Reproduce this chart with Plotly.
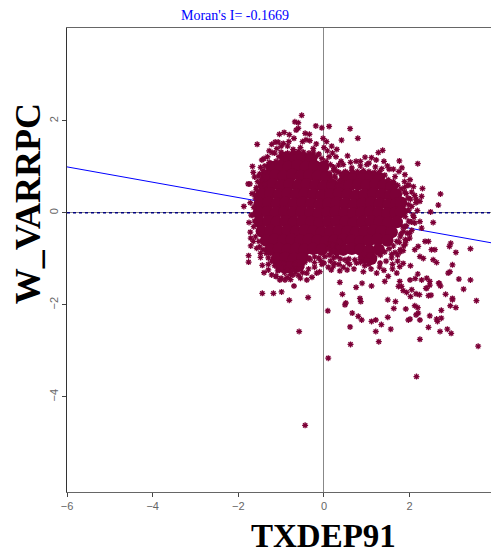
import plotly.graph_objects as go

MORAN_TITLE = "Moran's I= -0.1669"
X_LABEL = "TXDEP91"
Y_LABEL = "W_VARRPC"
X_TICKS = [-6, -4, -2, 0, 2]
Y_TICKS = [-4, -2, 0, 2]
FIT_X = [-6, 3.9]
FIT_Y = [1.0, -0.65]
ZERO_X = [-6, 3.9]
ZERO_Y = [0, 0]

# Individually legible points
point_x = [-0.52,-0.68,-0.60,-0.19,-0.05,0.12,0.61,0.79,0.41,-0.02,0.06,-1.56,-1.04,-0.93,-0.81,-0.65,-0.60,-0.44,-0.34,-0.33,-0.42,-1.22,-1.14,-1.07,-0.95,-1.21,-1.67,-1.65,-1.48,-1.77,-1.73,-1.87,-1.75,-1.71,-1.71,-1.57,-1.48,-1.76,-1.76,-1.44,-1.40,
 2.72,2.67,2.49,2.30,2.19,1.76,1.37,1.27,0.55,0.75,0.96,1.11,1.40,2.55,3.42,3.08,2.96,2.93,3.00,2.90,2.94,3.15,3.42,3.26,2.69,2.72,2.40,2.47,2.40,2.01,2.13,2.28,2.19,2.59,2.51,2.63,2.55,2.32,2.24,2.36,2.44,2.20,2.12,2.28,2.24,2.05,2.28,2.24,2.09,2.01,1.89,1.66,
 0.17,0.37,0.54,0.37,0.89,0.75,1.11,0.92,1.23,1.42,1.77,1.81,1.50,1.70,1.77,1.31,-1.03,-0.91,-0.70,-0.40,-0.17,-1.22,-0.40,0.00,-0.33,0.30,0.49,0.76,
 -1.44,-1.18,-0.99,-0.81,-0.37,0.09,-0.58,-0.44,0.10,0.43,0.51,0.49,0.84,0.86,0.66,0.80,0.88,0.61,0.62,1.11,1.21,1.34,1.49,1.21,1.56,1.28,1.49,1.67,1.63,1.91,1.74,1.85,1.93,2.05,2.02,2.15,2.23,2.12,2.19,2.15,2.20,2.24,2.01,1.97,2.44,2.24,2.16,2.71,2.88,2.97,2.47,2.63,2.65,2.74,2.74,2.95,3.08,3.00,3.00,2.84,2.44,2.50,2.38,2.47,2.68,3.56,3.60]
point_y = [2.12,1.98,1.96,1.89,1.85,1.88,1.83,1.62,1.58,1.62,1.55,1.49,1.71,1.75,1.70,1.80,1.84,1.73,1.71,1.57,1.59,1.49,1.54,1.54,1.51,1.31,1.01,0.88,0.99,0.63,0.63,0.14,-0.21,-0.55,-0.72,-0.77,-0.97,-0.93,-1.07,-1.14,-1.30,
 0.41,0.17,0.02,0.53,1.07,1.13,1.36,1.31,1.24,1.12,1.21,1.20,1.12,-0.21,-0.78,-0.86,-0.66,-0.73,-1.13,-1.31,-1.28,-1.44,-1.46,-1.66,-1.53,-1.59,-1.42,-1.49,-1.64,-1.46,-1.43,-1.46,-1.33,-0.80,-0.80,-1.08,-1.02,-0.99,-0.95,-0.62,-0.62,-0.73,-0.80,0.36,0.25,0.14,-0.33,-0.19,0.57,0.72,0.83,0.79,
 -1.24,-1.26,-1.24,-1.51,-1.53,-1.62,-1.59,-1.28,-1.31,-1.49,-1.49,-1.60,-1.38,-1.31,-1.17,-1.09,-1.46,-1.46,-1.59,-1.46,-1.31,-1.35,-1.31,-1.09,-1.02,-0.95,-1.02,-1.09,
 -1.75,-1.75,-1.72,-1.90,-1.84,-2.13,-2.58,-4.62,-3.16,-1.77,-1.96,-2.00,-1.86,-1.93,-2.18,-2.25,-2.33,-2.48,-2.86,-2.36,-2.33,-2.43,-2.27,-2.58,-2.53,-2.80,-1.89,-1.93,-2.08,-2.09,-1.60,-1.69,-1.73,-1.67,-1.82,-1.76,-1.78,-2.02,-2.06,-2.22,-2.18,-2.33,-2.31,-2.33,-2.49,-2.75,-3.56,-2.58,-2.53,-2.62,-2.24,-2.31,-2.36,-2.29,-2.12,-2.02,-2.06,-1.86,-1.89,-1.77,-1.80,-1.79,-1.64,-1.57,-1.53,-1.91,-2.90]

# Ragged rim of the cloud, estimated
fringe_x = [-1.15,-1.05,-1.12,-1.28,-1.38,-1.42,-1.50,-1.46,-1.55,-1.58,-1.60,-1.64,-1.66,-1.62,-1.64,-1.60,-1.52,-1.50,-1.42,-1.35,-1.30,-1.22,-1.15,-1.08,-0.92,-0.78,-0.66,-0.52,-0.45,-0.35,-0.22,-0.12,0.02,0.12,0.22,0.38,0.58,0.72,0.85,1.00,1.18,1.32,1.42,1.52,1.62,1.70,1.78,1.85,1.92,1.98,1.95,1.98,1.96,1.88,1.80,1.72,1.62,1.50,1.42,1.30,1.18,1.05,0.92,0.78,0.65,0.50,0.35,0.25,0.22,0.15,0.05,-0.05,-0.15,-0.25,-0.35,-0.48,-0.60,-0.72,-0.85,-0.98,
 -1.32,-1.28,-1.00,-0.82,-0.70,-0.50,-0.18,0.00,0.08,0.18,0.30,0.12,0.40,0.62,0.85,1.05,1.22,1.48,1.62,1.75,1.88,1.98,2.12,2.15,2.18,2.08,2.12,2.05,2.00,1.90,1.85,1.72,1.58,1.45,1.60,1.40,1.10,0.95,0.70,0.55,0.35,0.15,-0.05,-0.22,-0.55,-0.28,-0.78,-1.12,-1.30,-1.48,-1.65,-1.72,-1.70,-1.72,-1.68,-1.62,-1.45,-1.38,
 -1.40,-1.10,-1.00,-0.85,-0.72,-0.55,-0.25,-0.12,0.20,0.28,-1.38,-1.52,-1.58,-1.62,-1.30,-1.12,-0.85,-0.72,-0.58,-0.10,0.10,0.24,0.25,0.45,0.65,0.85,1.00,1.20,1.35,1.52,1.82,1.95,2.05,2.15,1.92,1.78,2.02,1.85,1.72,1.60,1.30,1.05,0.85,0.60,0.45,0.22,1.90,2.00,1.88,2.10,
 0.16,0.26,0.36,0.12,0.30,0.42,0.22,0.34,0.14,0.28,0.40,0.10,0.22,0.34,0.16,0.30,0.44,0.20,0.36,
 1.92,2.02,1.86,1.98,1.90,2.04,1.84,1.94,1.80,1.90,1.76,1.86,1.66,1.78,1.58,
 -1.00,-0.86,-0.74,-0.60,-0.94,-0.68,-0.50,-0.36,-0.22,-0.08]
fringe_y = [1.30,1.22,1.12,1.10,1.02,0.92,0.85,0.72,0.68,0.50,0.32,0.12,-0.05,-0.18,-0.30,-0.52,-0.62,-0.74,-0.80,-0.88,-0.98,-1.05,-1.15,-1.26,-1.30,-1.34,-1.28,-1.18,-1.08,-0.98,-0.96,-0.98,-0.95,-0.92,-0.98,-1.00,-1.00,-1.02,-0.98,-1.02,-0.95,-0.92,-0.85,-0.78,-0.72,-0.62,-0.52,-0.40,-0.28,-0.18,0.05,0.18,0.32,0.45,0.52,0.60,0.68,0.72,0.82,0.90,0.88,0.90,0.92,0.90,0.92,0.90,0.88,0.80,0.92,1.05,1.12,1.18,1.25,1.32,1.30,1.32,1.34,1.32,1.30,1.28,
 1.22,1.35,1.45,1.55,1.62,1.55,1.50,1.42,1.35,1.45,1.38,1.22,1.12,1.10,1.12,1.08,1.15,1.02,0.95,0.90,0.68,0.60,0.38,0.22,0.05,-0.05,-0.22,-0.38,-0.55,-0.68,-0.82,-0.92,-0.98,-1.05,-1.22,-1.25,-1.22,-1.15,-1.22,-1.08,-1.12,-1.05,-1.12,-1.08,-1.42,-1.40,-1.45,-1.38,-1.12,-0.88,-0.62,-0.42,-0.05,0.22,0.42,0.78,1.15,0.62,
 1.18,1.40,1.32,1.45,1.38,1.42,1.40,1.28,1.30,1.22,0.90,0.80,0.55,0.40,-1.24,-1.38,-1.25,-1.35,-1.22,-1.28,-1.18,-1.10,0.95,1.05,0.98,1.02,1.05,1.00,0.96,0.95,0.98,0.60,0.45,0.30,-0.60,-0.85,-1.15,-1.10,-1.05,-1.12,-1.18,-1.12,-1.08,-1.12,-1.18,-1.16,-0.30,-0.45,0.55,-0.10,
 0.72,0.76,0.70,0.86,0.90,0.82,1.00,1.04,-0.68,-0.72,-0.66,-0.78,-0.82,-0.76,-0.88,-0.90,-0.84,-0.70,-0.62,
 0.42,0.30,0.24,0.06,-0.08,-0.20,-0.30,-0.44,-0.46,-0.58,-0.64,-0.72,-0.86,-0.80,-0.90,
 -1.42,-1.40,-1.24,-1.36,-1.10,-1.12,-1.30,-1.22,-1.18,-1.04]

# Solid mass of the cloud, where single points can no longer be told apart
core_x = [-0.90,-0.70,-0.50,-0.30,
 -1.22,-1.02,-0.82,-0.62,-0.42,-0.22,-0.02,
 -1.34,-1.14,-0.94,-0.74,-0.54,-0.34,-0.14,0.06,0.50,0.70,0.90,1.10,1.28,
 -1.40,-1.20,-1.00,-0.80,-0.60,-0.40,-0.20,0.00,0.20,0.40,0.60,0.80,1.00,1.20,1.40,1.58,
 -1.45,-1.25,-1.05,-0.85,-0.65,-0.45,-0.25,-0.05,0.15,0.35,0.55,0.75,0.95,1.15,1.35,1.55,1.68,
 -1.50,-1.30,-1.10,-0.90,-0.70,-0.50,-0.30,-0.10,0.10,0.30,0.50,0.70,0.90,1.10,1.30,1.50,1.70,1.80,
 -1.52,-1.32,-1.12,-0.92,-0.72,-0.52,-0.32,-0.12,0.08,0.28,0.48,0.68,0.88,1.08,1.28,1.48,1.68,1.80,
 -1.50,-1.30,-1.10,-0.90,-0.70,-0.50,-0.30,-0.10,0.10,0.30,0.50,0.70,0.90,1.10,1.30,1.50,1.70,
 -1.45,-1.25,-1.05,-0.85,-0.65,-0.45,-0.25,-0.05,0.15,0.35,0.55,0.75,0.95,1.15,1.35,1.58,
 -1.35,-1.15,-0.95,-0.75,-0.55,-0.35,-0.15,0.05,0.25,0.45,0.65,0.85,1.05,1.25,1.48,
 -1.25,-1.05,-0.85,-0.65,-0.45,-0.25,-0.05,0.25,0.45,0.65,0.85,1.05,1.28,
 -1.10,-0.90,-0.70,-0.50,0.95,1.10,
 -1.00,-0.80,-0.60]
core_y = [1.20,1.22,1.20,1.18,
 1.00,1.02,1.00,1.03,1.00,1.02,1.00,
 0.80,0.82,0.80,0.83,0.80,0.82,0.80,0.78,0.80,0.78,0.80,0.78,0.76,
 0.60,0.62,0.60,0.62,0.60,0.62,0.60,0.58,0.60,0.58,0.60,0.62,0.60,0.62,0.60,0.58,
 0.40,0.42,0.40,0.42,0.40,0.42,0.40,0.38,0.40,0.42,0.40,0.38,0.40,0.42,0.40,0.38,0.40,
 0.20,0.22,0.20,0.22,0.20,0.22,0.20,0.18,0.20,0.22,0.20,0.18,0.20,0.22,0.20,0.18,0.20,0.22,
 0.00,0.02,0.00,0.02,0.00,0.02,0.00,-0.02,0.00,0.02,0.00,-0.02,0.00,0.02,0.00,-0.02,0.00,0.02,
 -0.20,-0.18,-0.20,-0.18,-0.20,-0.18,-0.20,-0.22,-0.20,-0.18,-0.20,-0.22,-0.20,-0.18,-0.20,-0.22,-0.20,
 -0.40,-0.38,-0.40,-0.38,-0.40,-0.38,-0.40,-0.42,-0.40,-0.38,-0.40,-0.42,-0.40,-0.38,-0.40,-0.42,
 -0.60,-0.58,-0.60,-0.58,-0.60,-0.58,-0.60,-0.62,-0.60,-0.58,-0.60,-0.62,-0.60,-0.58,-0.60,
 -0.80,-0.78,-0.80,-0.78,-0.80,-0.78,-0.80,-0.78,-0.80,-0.78,-0.80,-0.82,-0.80,
 -1.00,-0.98,-1.00,-0.98,-0.98,-1.00,
 -1.16,-1.18,-1.15]

PURPLE = "#7D0037"
GREY = "#666666"

fig = go.Figure()
fig.add_trace(go.Scatter(x=ZERO_X, y=ZERO_Y, mode="lines", line=dict(color="#000080", width=1.5, dash="dot"), hoverinfo="skip"))
fig.add_trace(go.Scatter(x=FIT_X, y=FIT_Y, mode="lines", line=dict(color="#0000FF", width=1), hoverinfo="skip"))
fig.add_trace(go.Scatter(x=core_x, y=core_y, mode="markers", marker=dict(symbol="circle", size=12.5, color=PURPLE, line=dict(width=0))))
asterisk = dict(symbol="asterisk-open", size=5, color=PURPLE, line=dict(color=PURPLE, width=1.3))
fig.add_trace(go.Scatter(x=fringe_x, y=fringe_y, mode="markers", marker=asterisk))
fig.add_trace(go.Scatter(x=point_x, y=point_y, mode="markers", marker=asterisk))

fig.update_layout(
    width=491, height=552, showlegend=False,
    paper_bgcolor="white", plot_bgcolor="white",
    margin=dict(l=67, r=0, t=28, b=60),
    font=dict(family="Liberation Sans", size=10, color=GREY),
    annotations=[
        dict(text=MORAN_TITLE, xref="paper", yref="paper", x=0.396, y=1.0, yshift=13, yanchor="middle", xanchor="center", showarrow=False,
             font=dict(family="Liberation Serif", size=14, color="#0000FF")),
        dict(text=X_LABEL, xref="paper", yref="paper", x=0.606, y=0, yshift=-44, yanchor="middle", xanchor="center", height=30, showarrow=False,
             font=dict(family="Liberation Serif", size=33, color="black", weight="bold")),
        dict(text=Y_LABEL, xref="paper", yref="paper", x=0, xshift=-39, y=0.62, yanchor="middle", xanchor="center", textangle=-90, showarrow=False,
             font=dict(family="Liberation Serif", size=36, color="black", weight="bold")),
    ],
)
fig.update_xaxes(range=[-6, 3.9], tickvals=X_TICKS, ticks="outside", ticklen=4, tickcolor="#444444",
                 showgrid=False, showline=True, linecolor="#666666", linewidth=1, mirror=True,
                 zeroline=True, zerolinecolor="#888888", zerolinewidth=1, tickfont=dict(size=11, color=GREY))
fig.update_yaxes(range=[-6.07, 4.02], tickvals=Y_TICKS, ticks="outside", ticklen=4, tickcolor="#444444",
                 showgrid=False, showline=True, linecolor="#333333", linewidth=1,
                 zeroline=True, zerolinecolor="#888888", zerolinewidth=1, tickangle=-90, tickfont=dict(size=11, color=GREY))

fig.write_html("out.html", post_script="document.body.style.margin='0';document.body.style.overflow='hidden';", config=dict(displayModeBar=False))
